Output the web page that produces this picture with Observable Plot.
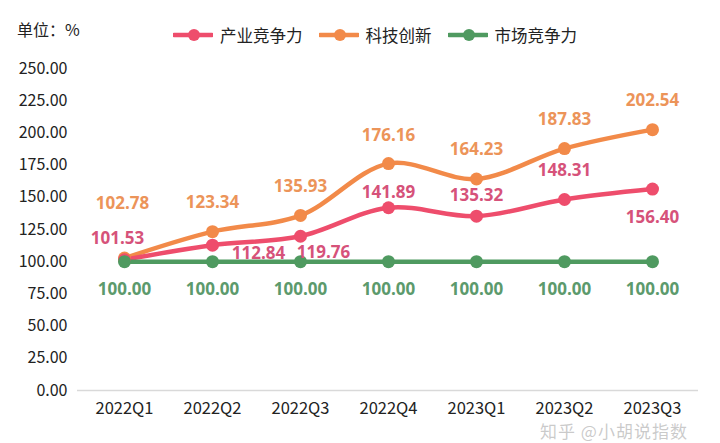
<!DOCTYPE html>
<html>
<head>
<meta charset="utf-8">
<script src="https://cdn.jsdelivr.net/npm/d3@7"></script>
<script src="https://cdn.jsdelivr.net/npm/@observablehq/plot@0.6"></script>
<style>
  html, body { margin: 0; padding: 0; background: #fff; }
  body { width: 720px; height: 443px; overflow: hidden; font-family: "Noto Sans CJK SC", "Noto Sans", sans-serif; }
  #header { position: relative; height: 50px; }
  #unit { position: absolute; left: 17px; top: 18px; font-size: 16px; line-height: 22px; color: #222; }
  #legend { position: absolute; left: 173px; top: 24px; display: flex; align-items: center; font-size: 16.5px; line-height: 22px; color: #222; }
  .item { display: flex; align-items: center; margin-right: 16px; }
  .item svg { margin-right: 7px; }
  #chart { position: relative; }
  #wm { position: absolute; left: 540px; top: 371px; font-size: 17px; line-height: 20px; color: rgba(150,150,150,0.5); letter-spacing: 1px; pointer-events: none; }
</style>
</head>
<body>
<div id="header">
  <div id="unit">单位：%</div>
  <div id="legend"></div>
</div>
<div id="chart"></div>
<script>
const quarters = ["2022Q1", "2022Q2", "2022Q3", "2022Q4", "2023Q1", "2023Q2", "2023Q3"];
const industry = [101.53, 112.84, 119.76, 141.89, 135.32, 148.31, 156.40];
const tech = [102.78, 123.34, 135.93, 176.16, 164.23, 187.83, 202.54];
const market = [100.00, 100.00, 100.00, 100.00, 100.00, 100.00, 100.00];
const seriesNames = ["产业竞争力", "科技创新", "市场竞争力"];
const yTicks = [0, 25, 50, 75, 100, 125, 150, 175, 200, 225, 250];

// styles
const lineColors = ["#EE4D6C", "#F28A49", "#4F9A60"];
const labelColors = ["#D6527A", "#EC9459", "#5C9A6C"];
// label offsets (px) per series / point
const labelOffsets = [
  [[-7, -21], [46, 8], [23, 16], [0, -15], [0, -21], [0, -29], [0, 28]],
  [[-2, -55], [0, -29], [0, -29], [0, -28], [0, -29], [0, -29], [0, -29]],
  [[0, 28], [0, 28], [0, 28], [0, 28], [0, 28], [0, 28], [0, 28]]
];

const seriesValues = [industry, tech, market];
const rows = seriesValues.flatMap((vals, s) =>
  vals.map((v, i) => ({ series: seriesNames[s], s, i, q: quarters[i], v }))
);

// legend
const legend = document.getElementById("legend");
seriesNames.forEach((name, s) => {
  const item = document.createElement("div");
  item.className = "item";
  item.innerHTML = `<svg width="40" height="14"><line x1="1" x2="39" y1="7" y2="7" stroke="${lineColors[s]}" stroke-width="4.5" stroke-linecap="round"/><circle cx="21" cy="7" r="6" fill="${lineColors[s]}"/></svg><span>${name}</span>`;
  legend.appendChild(item);
});

const drawOrder = [1, 0, 2];
const marks = [
  Plot.ruleY([0], { stroke: "#d9d9d9", strokeWidth: 1.5 })
];
drawOrder.forEach(s => {
  const data = rows.filter(d => d.s === s);
  marks.push(Plot.line(data, { x: "q", y: "v", stroke: lineColors[s], strokeWidth: 4.5, curve: "catmull-rom" }));
});
drawOrder.forEach(s => {
  const data = rows.filter(d => d.s === s);
  marks.push(Plot.dot(data, { x: "q", y: "v", r: 6.5, fill: lineColors[s], stroke: "none" }));
});
rows.forEach(d => {
  const [dx, dy] = labelOffsets[d.s][d.i];
  marks.push(Plot.text([d], {
    x: "q", y: "v", text: d => d.v.toFixed(2), dx, dy,
    fill: labelColors[d.s], fontSize: 17, fontWeight: 700,
    fontFamily: "'Open Sans', 'Noto Sans', sans-serif"
  }));
});

const chart = Plot.plot({
  width: 720,
  height: 393,
  marginLeft: 77,
  marginRight: 22,
  marginTop: 18,
  marginBottom: 53,
  style: { fontFamily: "'Noto Sans CJK SC', 'Noto Sans', sans-serif", fontSize: "16px", color: "#222", background: "#fff" },
  x: { type: "point", domain: quarters, padding: 0.5, label: null, tickSize: 0, tickPadding: 12 },
  y: { domain: [0, 250], ticks: yTicks, tickFormat: d3.format(".2f"), label: null, tickSize: 0, tickPadding: 10 },
  marks
});
chart.querySelectorAll("g[aria-label='x-axis tick label'] text").forEach(t => t.setAttribute("font-size", "16.5"));
document.getElementById("chart").appendChild(chart);
const wm = document.createElement("div");
wm.id = "wm";
wm.textContent = "知乎 @小胡说指数";
document.getElementById("chart").appendChild(wm);
</script>
</body>
</html>
